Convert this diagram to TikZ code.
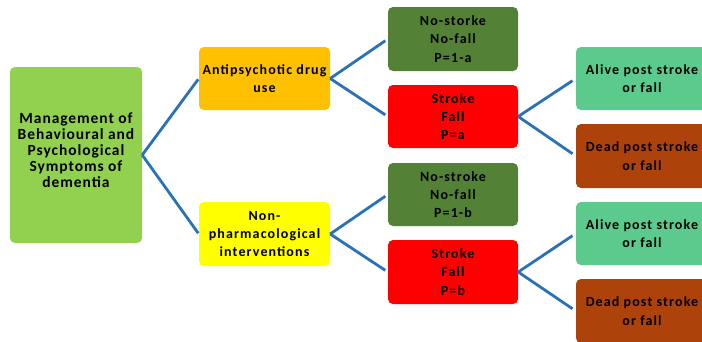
\documentclass[tikz,border=0pt]{standalone}
\usepackage{fontspec}
\setmainfont{Carlito}
\newfontfamily\boxfont[LetterSpace=8]{Carlito}
\newfontfamily\rootfont[LetterSpace=6]{Carlito}
\begin{document}
\begin{tikzpicture}[x=1pt,y=-1pt,
  box/.style={rounded corners=5pt, align=center, inner sep=2pt,
    font=\boxfont\fontsize{14}{18.3}\selectfont\bfseries, text=black},
  link/.style={draw=linkblue, line width=2.8pt},
]
\definecolor{linkblue}{HTML}{2A72B8}
\definecolor{rootgreen}{HTML}{92D050}
\definecolor{drugorange}{HTML}{FFC000}
\definecolor{nonyellow}{HTML}{FFFF00}
\definecolor{okgreen}{HTML}{538135}
\definecolor{badred}{HTML}{FF0000}
\definecolor{alivegreen}{HTML}{5BCA8C}
\definecolor{deadbrown}{HTML}{AE420B}
\useasboundingbox (0,0) rectangle (702,341);
\clip (0,0) rectangle (702,341);

% first level
\node[box, fill=rootgreen, minimum width=132pt, minimum height=176pt] (root) at (76,155) {};
\node[align=center, inner sep=0pt, text=black,
  font=\rootfont\fontsize{15.5}{16}\selectfont\bfseries] (roottext) at (76,150)
  {Management of\\Behavioural and\\Psychological\\Symptoms of\\dementia};

% treatment options
\node[box, fill=drugorange, minimum width=131pt, minimum height=63pt] (drug) at (264.5,78.5)
  {Antipsychotic drug\\use};
\node[box, fill=nonyellow, minimum width=131pt, minimum height=64pt] (nonph) at (264.5,234)
  {Non-\\pharmacological\\interventions};

% events
\node[box, fill=okgreen, minimum width=130pt, minimum height=64pt] (ok1) at (453,39)
  {No-storke\\No-fall\\P=1-a};
\node[box, fill=badred, minimum width=130pt, minimum height=63pt] (ev1) at (453,116.5)
  {Stroke\\Fall\\P=a};
\node[box, fill=okgreen, minimum width=130pt, minimum height=63pt] (ok2) at (453,194.5)
  {No-stroke\\No-fall\\P=1-b};
\node[box, fill=badred, minimum width=130pt, minimum height=64pt] (ev2) at (453,272)
  {Stroke\\Fall\\P=b};

% outcomes
\node[box, fill=alivegreen, minimum width=132pt, minimum height=63pt] (alive1) at (642,78.5)
  {Alive post stroke\\or fall};
\node[box, fill=deadbrown, minimum width=132pt, minimum height=64pt] (dead1) at (642,156)
  {Dead post stroke\\or fall};
\node[box, fill=alivegreen, minimum width=132pt, minimum height=63pt] (alive2) at (642,233.5)
  {Alive post stroke\\or fall};
\node[box, fill=deadbrown, minimum width=132pt, minimum height=64pt] (dead2) at (642,311)
  {Dead post stroke\\or fall};

% branches
\draw[link, shorten >=1pt] (root.east) -- (drug.west);
\draw[link, shorten >=1pt] (root.east) -- (nonph.west);
\draw[link, shorten >=3pt] (drug.east) -- (ok1.west);
\draw[link, shorten >=3pt] (drug.east) -- (ev1.west);
\draw[link, shorten >=3pt] (nonph.east) -- (ok2.west);
\draw[link, shorten >=3pt] (nonph.east) -- (ev2.west);
\draw[link, shorten >=4pt] (ev1.east) -- (alive1.west);
\draw[link, shorten >=4pt] (ev1.east) -- (dead1.west);
\draw[link, shorten >=4pt] (ev2.east) -- (alive2.west);
\draw[link, shorten >=4pt] (ev2.east) -- (dead2.west);
\end{tikzpicture}
\end{document}
